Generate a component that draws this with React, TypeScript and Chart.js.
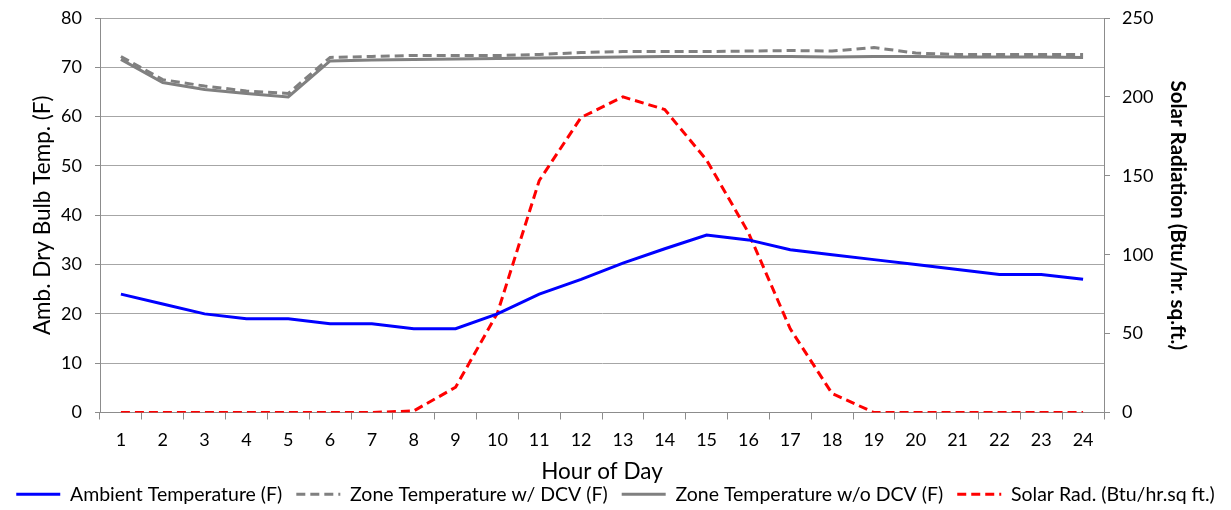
import { useEffect, useRef } from "react";
import { Chart, registerables } from "chart.js";

Chart.register(...registerables);

const hours = ["1", "2", "3", "4", "5", "6", "7", "8", "9", "10", "11", "12", "13", "14", "15", "16", "17", "18", "19", "20", "21", "22", "23", "24"];
const ambientTemp = [24, 22, 20, 19, 19, 18, 18, 17, 17, 20, 24, 27, 30.3, 33.2, 36, 35, 33, 32, 31, 30, 29, 28, 28, 27];
const zoneTempDCV = [72.2, 67.5, 66.2, 65.2, 64.7, 72.0, 72.2, 72.4, 72.4, 72.4, 72.6, 73.0, 73.2, 73.2, 73.2, 73.3, 73.4, 73.3, 74.0, 72.9, 72.6, 72.6, 72.6, 72.6];
const zoneTempNoDCV = [71.6, 66.9, 65.5, 64.7, 64.0, 71.3, 71.5, 71.6, 71.7, 71.8, 71.9, 72.0, 72.1, 72.2, 72.2, 72.2, 72.2, 72.1, 72.2, 72.2, 72.1, 72.1, 72.1, 72.0];
const solarRad = [0, 0, 0, 0, 0, 0, 0, 1, 16, 63, 147, 187, 200, 192, 160, 114, 53, 12, 0, 0, 0, 0, 0, 0];

const leftTicks = { min: 0, max: 80, step: 10 };
const rightTicks = { min: 0, max: 250, step: 50 };

const FONT = "Lato, 'Liberation Sans', sans-serif";

export default function App() {
  const ref = useRef<HTMLCanvasElement | null>(null);

  useEffect(() => {
    if (!ref.current) return;
    const chart = new Chart(ref.current, {
      type: "line",
      data: {
        labels: hours,
        datasets: [
          {
            label: "Ambient Temperature (F)",
            data: ambientTemp,
            borderColor: "#0000FF",
            backgroundColor: "#0000FF",
            borderWidth: 3,
            pointRadius: 0,
            tension: 0,
            yAxisID: "y",
          },
          {
            label: "Zone Temperature w/ DCV (F)",
            data: zoneTempDCV,
            borderColor: "#808080",
            backgroundColor: "#808080",
            borderWidth: 3,
            borderDash: [9, 5],
            pointRadius: 0,
            tension: 0,
            yAxisID: "y",
          },
          {
            label: "Zone Temperature w/o DCV (F)",
            data: zoneTempNoDCV,
            borderColor: "#808080",
            backgroundColor: "#808080",
            borderWidth: 3,
            pointRadius: 0,
            tension: 0,
            yAxisID: "y",
          },
          {
            label: "Solar Rad. (Btu/hr.sq ft.)",
            data: solarRad,
            borderColor: "#FF0000",
            backgroundColor: "#FF0000",
            borderWidth: 3,
            borderDash: [9, 5],
            pointRadius: 0,
            tension: 0,
            yAxisID: "y1",
          },
        ],
      },
      options: {
        animation: false,
        responsive: true,
        maintainAspectRatio: false,
        layout: { padding: { top: 18, left: 0, right: 0, bottom: -4 } },
        plugins: {
          tooltip: { enabled: false },
          legend: {
            position: "bottom",
            labels: {
              usePointStyle: true,
              pointStyle: "line",
              pointStyleWidth: 44,
              boxWidth: 44,
              padding: 14,
              color: "#000",
              font: { family: FONT, size: 19.5 },
              generateLabels: (c: any) => {
                const items = Chart.defaults.plugins.legend.labels.generateLabels(c);
                return items.map((it: any) => {
                  const ds: any = c.data.datasets[it.datasetIndex];
                  return {
                    ...it,
                    pointStyle: "line",
                    lineWidth: ds.borderWidth,
                    strokeStyle: ds.borderColor,
                    fillStyle: ds.borderColor,
                    lineDash: ds.borderDash || [],
                    lineCap: "butt",
                  };
                });
              },
            },
          },
        },
        scales: {
          x: {
            offset: true,
            grid: {
              display: true,
              offset: true,
              drawOnChartArea: false,
              tickLength: 7,
              color: "#8c8c8c",
            },
            border: { color: "#8c8c8c" },
            ticks: { color: "#000", font: { family: FONT, size: 18 }, padding: 10, maxRotation: 0, autoSkip: false },
            title: { display: true, text: "Hour of Day", color: "#000", font: { family: FONT, size: 22.5 }, padding: { top: 4, bottom: -14.5 } },
            afterFit: (s: any) => { s.height = 58; },
          },
          y: {
            position: "left",
            min: leftTicks.min,
            max: leftTicks.max,
            ticks: { stepSize: leftTicks.step, color: "#000", font: { family: FONT, size: 18 }, padding: 13 },
            grid: { color: "#a6a6a6", tickLength: 5, tickColor: "#8c8c8c" },
            border: { color: "#8c8c8c" },
            title: { display: true, text: "Amb. Dry Bulb Temp. (F)", color: "#000", font: { family: FONT, size: 22.5 }, padding: { top: 29.5, bottom: 0 } },
            afterFit: (s: any) => { s.width = 100; s.paddingTop = 0; s.paddingBottom = 0; },
          },
          y1: {
            position: "right",
            min: rightTicks.min,
            max: rightTicks.max,
            ticks: { stepSize: rightTicks.step, color: "#000", font: { family: FONT, size: 18 }, padding: 12 },
            grid: { drawOnChartArea: false, tickLength: 6, color: "#8c8c8c" },
            border: { color: "#8c8c8c" },
            title: { display: true, text: "Solar Radiation (Btu/hr. sq.ft.)", color: "#000", font: { family: FONT, size: 20.5, weight: "bold" }, padding: { top: 41.5, bottom: 0 } },
            afterFit: (s: any) => { s.width = 127; s.paddingTop = 0; s.paddingBottom = 0; },
          },
        },
      },
    });
    return () => chart.destroy();
  }, []);

  return (
    <div style={{ position: "absolute", left: 0, top: 0, width: 1231, height: 510 }}>
      <canvas ref={ref} />
    </div>
  );
}
